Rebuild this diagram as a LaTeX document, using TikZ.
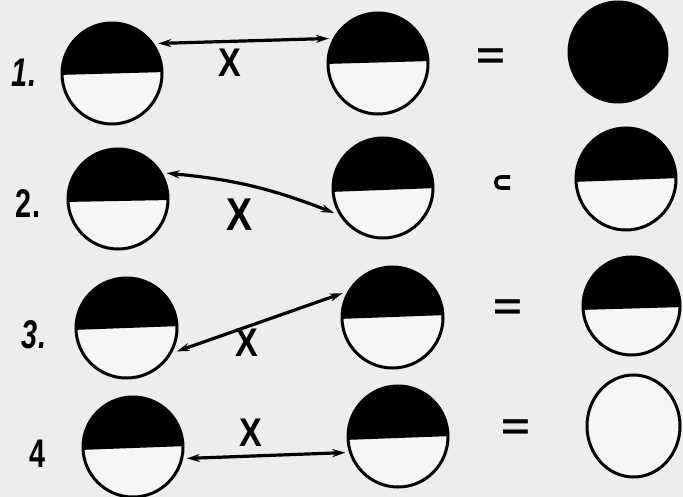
\documentclass[tikz,border=0pt]{standalone}
\usepackage{fontspec}
\setmainfont{Liberation Sans}
\usetikzlibrary{shapes.geometric,arrows.meta}
\definecolor{paper}{HTML}{EDEDEB}
\definecolor{halfwhite}{HTML}{F6F6F4}
\tikzset{
  disc/.style={ellipse, draw=black, line width=3pt, inner sep=0pt, outer sep=5pt},
  link/.style={line width=3.2pt, {Stealth[length=13pt,width=8pt]}-{Stealth[length=13pt,width=8pt]}},
  num/.style={font=\fontsize{40}{40}\selectfont\bfseries},
  cross/.style={font=\fontsize{40}{40}\selectfont\bfseries},
  eqsign/.style={font=\fontsize{38}{38}\selectfont\bfseries}
}
\newcommand\halfdisc[7]{%
  \begin{scope}
    \clip (#2,#3) ellipse [x radius=#4, y radius=#5];
    \fill[halfwhite] ({#2-#4-4},{#3-#5-4}) rectangle ({#2+#4+4},{#3+#5+4});
    \fill[black] ({#2-#4-4},{#3-#5-4}) -- ({#2+#4+4},{#3-#5-4}) -- ({#2+#4+4},#7) -- ({#2-#4-4},#6) -- cycle;
  \end{scope}
  \node[disc, minimum width={2*#4}, minimum height={2*#5}] (#1) at (#2,#3) {};
}
\begin{document}
\begin{tikzpicture}[x=1pt,y=-1pt]
\fill[paper] (0,0) rectangle (683,497);
\useasboundingbox (0,0) rectangle (683,497);

% row 1
\node[num] (n1) at (24,73) {\scalebox{0.72}[1]{\itshape 1.}};
\halfdisc{a1}{112}{73.5}{50}{50.5}{75}{72}
\halfdisc{b1}{378}{63.5}{50}{50.5}{64}{61}
\node[disc, fill=black, minimum width=98, minimum height=100] (c1) at (618,52) {};
\draw[link] (a1.33) -- (b1.153);
\node[cross] (x1) at (230,63) {\scalebox{0.85}[1]{X}};
\node[eqsign] (e1) at (491,59) {\scalebox{1.3}[1]{=}};

% row 2
\node[num] (n2) at (28,204) {\scalebox{0.72}[1]{2.}};
\halfdisc{a2}{118}{199}{50}{50}{202}{200}
\halfdisc{b2}{383}{188}{50}{50}{192}{188}
\halfdisc{c2}{626}{179}{50}{51}{182}{178}
\draw[link] (a2.28) to[bend left=8] (b2.207);
\node[cross, font=\fontsize{46}{46}\selectfont\bfseries] (x2) at (240,215) {\scalebox{0.85}[1]{X}};
\draw[line width=3.6pt] (510,177) -- (501,177) .. controls (494,177) and (494,188) .. (501,188) -- (510,188);

% row 3
\node[num] (n3) at (34,335) {\scalebox{0.72}[1]{\itshape 3.}};
\halfdisc{a3}{126.5}{328}{50.5}{50}{330}{326}
\halfdisc{b3}{392.5}{317.5}{50.5}{50.5}{319}{315}
\halfdisc{c3}{631.5}{306}{48.5}{49}{310}{307}
\draw[link] (a3.335) -- (b3.154);
\node[cross] (x3) at (247,343) {\scalebox{0.85}[1]{X}};
\node[eqsign] (e3) at (508,310) {\scalebox{1.3}[1]{=}};

% row 4
\node[num] (n4) at (38,454) {\scalebox{0.72}[1]{4}};
\halfdisc{a4}{133}{447}{50}{50}{450}{446}
\halfdisc{b4}{398}{436.5}{50}{50.5}{440}{436}
\node[disc, fill=halfwhite, minimum width=93, minimum height=102] (c4) at (633.5,426) {};
\draw[link] (a4.348) -- (b4.197);
\node[cross] (x4) at (251,433) {\scalebox{0.85}[1]{X}};
\node[eqsign] (e4) at (516,430) {\scalebox{1.3}[1]{=}};
\end{tikzpicture}
\end{document}
